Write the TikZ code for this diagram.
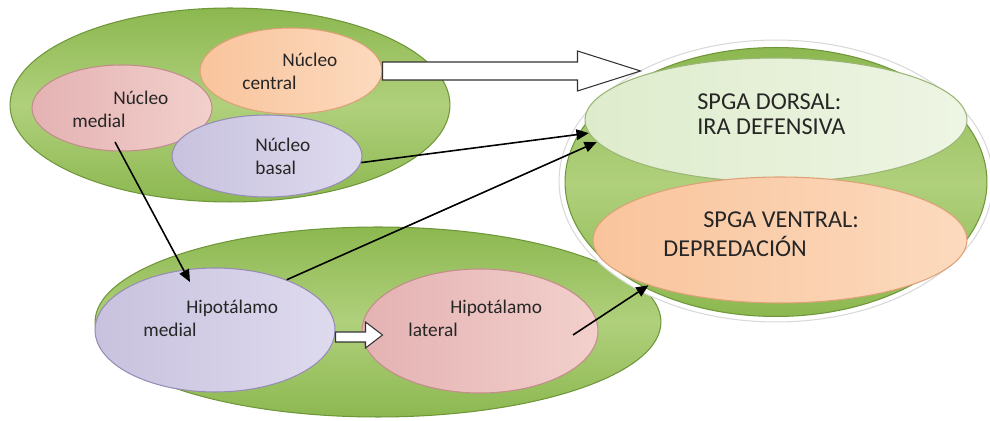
\documentclass[tikz,border=0pt]{standalone}
\usepackage{fontspec}
\setmainfont{Carlito}
\usetikzlibrary{arrows.meta}
\usetikzlibrary{shapes}

\definecolor{leafgreen}{RGB}{140,184,80}
\definecolor{leaflight}{RGB}{176,208,124}
\definecolor{leafdark}{RGB}{112,150,58}
\definecolor{mintpale}{RGB}{222,236,204}
\definecolor{mintlight}{RGB}{238,245,228}
\definecolor{peach}{RGB}{249,196,156}
\definecolor{peachlight}{RGB}{252,218,190}
\definecolor{peachdark}{RGB}{222,160,118}
\definecolor{rose}{RGB}{228,178,178}
\definecolor{roselight}{RGB}{242,208,204}
\definecolor{rosedark}{RGB}{196,140,140}
\definecolor{lilac}{RGB}{200,194,222}
\definecolor{lilaclight}{RGB}{222,218,238}
\definecolor{lilacdark}{RGB}{150,140,180}

\tikzset{
  blob/.style={ellipse, inner sep=0pt, line width=0.6pt},
  greenblob/.style={blob, draw=leafdark, top color=leafgreen, bottom color=leafgreen, middle color=leaflight},
  mintblob/.style={blob, draw=leafdark!70, left color=mintpale, right color=mintlight},
  peachblob/.style={blob, draw=peachdark, left color=peach, right color=peachlight},
  roseblob/.style={blob, draw=rosedark, left color=rose, right color=roselight},
  lilacblob/.style={blob, draw=lilacdark, left color=lilac, right color=lilaclight},
  lbl/.style={anchor=base west, inner sep=0pt, text=black!85, font=\fontsize{11}{13}\selectfont},
  biglbl/.style={lbl, font=\fontsize{13.8}{16}\selectfont},
  link/.style={->, line width=0.9pt},
  blockarrow/.style={draw=black!80, fill=white, line width=0.6pt, line join=miter},
}

\begin{document}
\begin{tikzpicture}[x=0.02cm, y=-0.02cm, >={Triangle[length=7pt,width=6pt]}]
\useasboundingbox (0,0) rectangle (990,421);

% nucleos (amigdala)
\node[greenblob, minimum width=8.8cm, minimum height=3.88cm] (amigdala) at (230,105) {};
\node[peachblob, minimum width=3.64cm, minimum height=1.72cm] (central) at (291,71) {};
\node[roseblob, minimum width=3.6cm, minimum height=1.72cm] (medial) at (122,108) {};
\node[lilacblob, minimum width=3.8cm, minimum height=1.64cm] (basal) at (267,156) {};

\node[lbl] (centraltxta) at (282,67) {Núcleo};
\node[lbl] (centraltxtb) at (242,90) {central};
\node[lbl] (medialtxta) at (113,105) {Núcleo};
\node[lbl] (medialtxtb) at (72,128) {medial};
\node[lbl] (basaltxta) at (255,152) {Núcleo};
\node[lbl] (basaltxtb) at (255,175) {basal};

%---------------------------------------------------------------------------------------------------
% hipotalamo
\node[greenblob, minimum width=11.32cm, minimum height=3.8cm] (hipotalamo) at (378,322) {};
\node[lilacblob, minimum width=4.8cm, minimum height=2.48cm] (hipmedial) at (215,330) {};
\node[roseblob, minimum width=4.72cm, minimum height=2.48cm] (hiplateral) at (480,331) {};

\node[lbl] (hipmedialtxta) at (186,314) {Hipotálamo};
\node[lbl] (hipmedialtxtb) at (143,337) {medial};
\node[lbl] (hiplateraltxta) at (450,314) {Hipotálamo};
\node[lbl] (hiplateraltxtb) at (408,337) {lateral};

%---------------------------------------------------------------------------------------------------
% SPGA
\node[blob, draw=black!15, fill=white, minimum width=8.68cm, minimum height=5.64cm] (ring) at (776,181) {};
\node[greenblob, minimum width=8.44cm, minimum height=5.38cm] (spga) at (776,182) {};
\node[mintblob, minimum width=7.64cm, minimum height=2.48cm] (dorsal) at (776,120) {};
\node[peachblob, minimum width=7.48cm, minimum height=2.52cm] (ventral) at (780,240) {};

\node[biglbl] (dorsaltxta) at (697,110) {SPGA DORSAL:};
\node[biglbl] (dorsaltxtb) at (697,135) {IRA DEFENSIVA};
\node[biglbl] (ventraltxta) at (703,228) {SPGA VENTRAL:};
\node[biglbl] (ventraltxtb) at (663,257) {DEPREDACIÓN};

%---------------------------------------------------------------------------------------------------
% conexiones
\draw[blockarrow] (central.east) ++(0,-9) -- ++(195,0) -- ++(0,-11) -- ++(63,20) -- ++(-63,20) -- ++(0,-11) -- ++(-195,0) -- cycle;
\draw[blockarrow] (hipmedial.east) ++(0,2) -- ++(30,0) -- ++(0,-10) -- ++(17,13) -- ++(-17,13) -- ++(0,-6) -- ++(-30,0) -- cycle;

\draw[link] ([shift={(-7,34)}]medial.center) -- ([shift={(-25,-48)}]hipmedial.center);
\draw[link] (basal.-4) -- (dorsal.184);
\draw[link] (hipmedial.35) -- (dorsal.187);
\draw[link] ([shift={(93,4)}]hiplateral.center) -- (ventral.199);

\end{tikzpicture}
\end{document}
